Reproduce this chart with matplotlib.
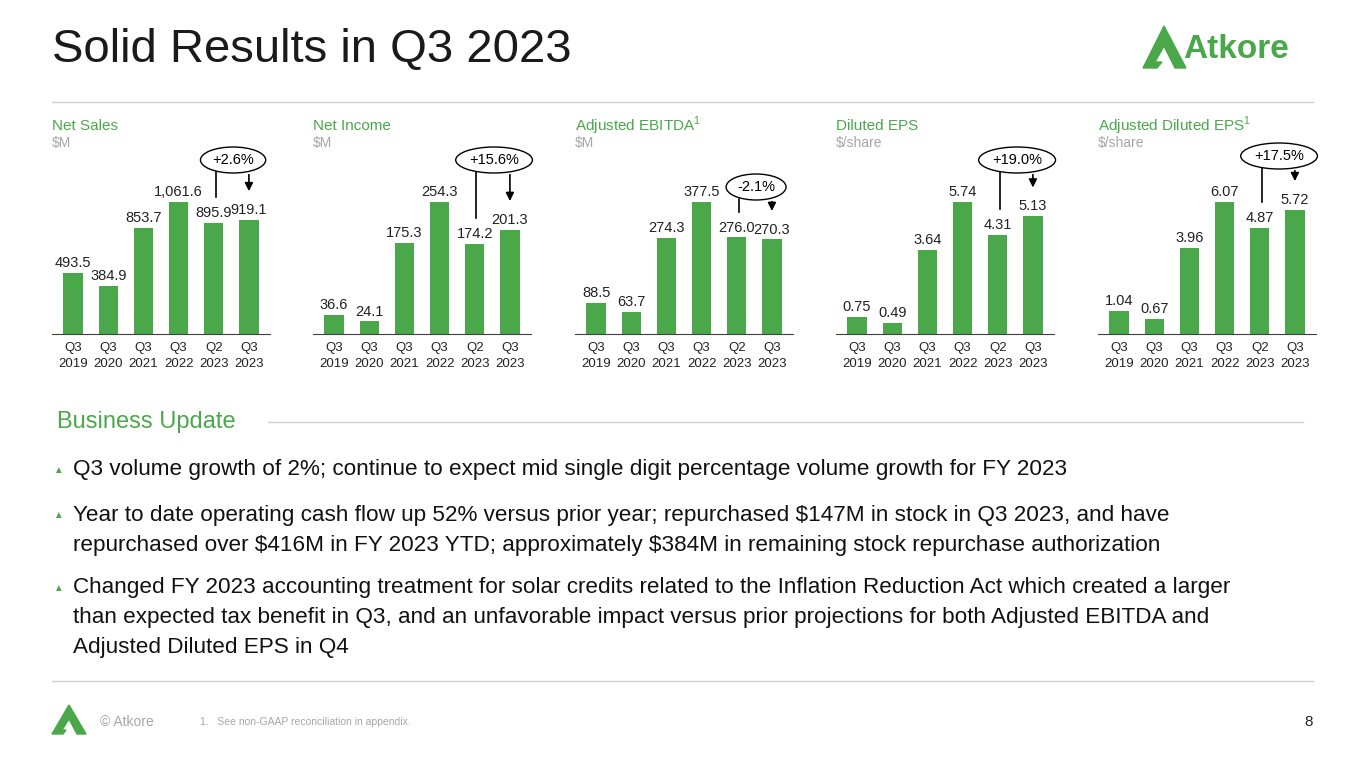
import matplotlib
matplotlib.use('Agg')
import matplotlib.pyplot as plt
from matplotlib.patches import Polygon

plt.rcParams['font.family'] = ['Liberation Sans', 'DejaVu Sans']
plt.rcParams['mathtext.fontset'] = 'custom'
plt.rcParams['mathtext.rm'] = 'Liberation Sans'

GREEN = '#4aa84a'
GREY = '#a6a6a6'

periods = ["Q3\n2019", "Q3\n2020", "Q3\n2021", "Q3\n2022", "Q2\n2023", "Q3\n2023"]
titles = ["Net Sales", "Net Income", "Adjusted EBITDA$^{1}$", "Diluted EPS", "Adjusted Diluted EPS$^{1}$"]
units = ["$M", "$M", "$M", "$/share", "$/share"]
net_sales = [493.5, 384.9, 853.7, 1061.6, 895.9, 919.1]
net_income = [36.6, 24.1, 175.3, 254.3, 174.2, 201.3]
adj_ebitda = [88.5, 63.7, 274.3, 377.5, 276.0, 270.3]
diluted_eps = [0.75, 0.49, 3.64, 5.74, 4.31, 5.13]
adj_eps = [1.04, 0.67, 3.96, 6.07, 4.87, 5.72]
changes = ["+2.6%", "+15.6%", "-2.1%", "+19.0%", "+17.5%"]
formats = ["{:,.1f}", "{:,.1f}", "{:,.1f}", "{:.2f}", "{:.2f}"]
series = [net_sales, net_income, adj_ebitda, diluted_eps, adj_eps]

W, H = 1365, 768
fig = plt.figure(figsize=(W / 100, H / 100), dpi=100)

def fx(x):
    return x / W

def fy(y):
    return 1 - y / H

# header
fig.text(fx(52), fy(50), "Solid Results in Q3 2023", fontsize=34, va='center', ha='left', color='#1a1a1a')
fig.add_artist(plt.Line2D([fx(52), fx(1313)], [fy(102), fy(102)], color='#d0d0d0', lw=1))
# logo
fig.add_artist(Polygon([[fx(1143), fy(68)], [fx(1164), fy(26)], [fx(1186), fy(68)], [fx(1175), fy(68)],
                        [fx(1164), fy(46)], [fx(1155), fy(62)], [fx(1162), fy(62)], [fx(1157), fy(68)]],
                       closed=True, color=GREEN))
fig.text(fx(1183), fy(49), "Atkore", fontsize=24, fontweight='bold', color=GREEN, va='center', ha='left')

lefts = [52, 313, 575, 836, 1098]
base_y = 334
ax_h = 198
ann_y = [160, 160, 187, 160, 156]

for i in range(5):
    vals = series[i]
    top = max(vals) * 1.5
    ax = fig.add_axes([fx(lefts[i]), fy(base_y), fx(218), ax_h / H])
    x = range(len(vals))
    ax.bar(x, vals, width=0.55, color=GREEN)
    ax.set_xlim(-0.6, 5.6)
    ax.set_ylim(0, top)
    for s in ['top', 'right', 'left']:
        ax.spines[s].set_visible(False)
    ax.spines['bottom'].set_color('#404040')
    ax.set_yticks([])
    ax.set_xticks(list(x))
    ax.set_xticklabels(periods, fontsize=9.5, color='#222222', linespacing=1.45)
    ax.tick_params(axis='x', length=0, pad=6)
    for j, v in enumerate(vals):
        ax.text(j, v + top * 0.015, formats[i].format(v), ha='center', va='bottom', fontsize=10.5, color='#222222')
    # change annotation
    ey = (base_y - ann_y[i]) / ax_h * top
    ax.text(4.55, ey, changes[i], ha='center', va='center', fontsize=10.5,
            bbox=dict(boxstyle='ellipse,pad=0.15', fc='white', ec='black', lw=1))
    lab_q2 = vals[4] + top * 0.13
    lab_q3 = vals[5] + top * 0.13
    ell_b = ey - top * 0.06
    ax.plot([4.05, 4.05], [ell_b, lab_q2], color='black', lw=1.2)
    ax.annotate("", xy=(5.0, lab_q3), xytext=(5.0, ell_b),
                arrowprops=dict(arrowstyle='-|>', color='black', lw=1.2, mutation_scale=12))
    fig.text(fx(lefts[i]), fy(126), titles[i], fontsize=11, color=GREEN, va='center')
    fig.text(fx(lefts[i]), fy(143), units[i], fontsize=10, color=GREY, va='center')

# business update
fig.text(fx(57), fy(422), "Business Update", fontsize=17, color=GREEN, va='center')
fig.add_artist(plt.Line2D([fx(268), fx(1303)], [fy(422), fy(422)], color='#d0d0d0', lw=1))
bullets = [
    (470, ["Q3 volume growth of 2%; continue to expect mid single digit percentage volume growth for FY 2023"]),
    (515, ["Year to date operating cash flow up 52% versus prior year; repurchased $147M in stock in Q3 2023, and have",
           "repurchased over $416M in FY 2023 YTD; approximately $384M in remaining stock repurchase authorization"]),
    (588, ["Changed FY 2023 accounting treatment for solar credits related to the Inflation Reduction Act which created a larger",
           "than expected tax benefit in Q3, and an unfavorable impact versus prior projections for both Adjusted EBITDA and",
           "Adjusted Diluted EPS in Q4"]),
]
for y0, lines in bullets:
    fig.text(fx(58), fy(y0), "\u25b2", fontsize=7, color=GREEN, va='center', ha='center')
    for k, line in enumerate(lines):
        fig.text(fx(73), fy(y0 + 30 * k), line.replace("$", r"\$"), fontsize=16.2, color='#111111', va='center')

# footer
fig.add_artist(plt.Line2D([fx(52), fx(1313)], [fy(681), fy(681)], color='#d0d0d0', lw=1))
fig.add_artist(Polygon([[fx(52), fy(734)], [fx(69), fy(705)], [fx(86), fy(734)], [fx(77), fy(734)],
                        [fx(69), fy(719)], [fx(62), fy(730)], [fx(66), fy(730)], [fx(63), fy(734)]],
                       closed=True, color=GREEN))
fig.text(fx(100), fy(722), "\u00a9 Atkore", fontsize=10, color=GREY, va='center')
fig.text(fx(200), fy(722), "1.   See non-GAAP reconciliation in appendix.", fontsize=7.5, color=GREY, va='center')
fig.text(fx(1313), fy(722), "8", fontsize=11, color='#222222', va='center', ha='right')

fig.savefig("out.png", dpi=100, facecolor='white')
